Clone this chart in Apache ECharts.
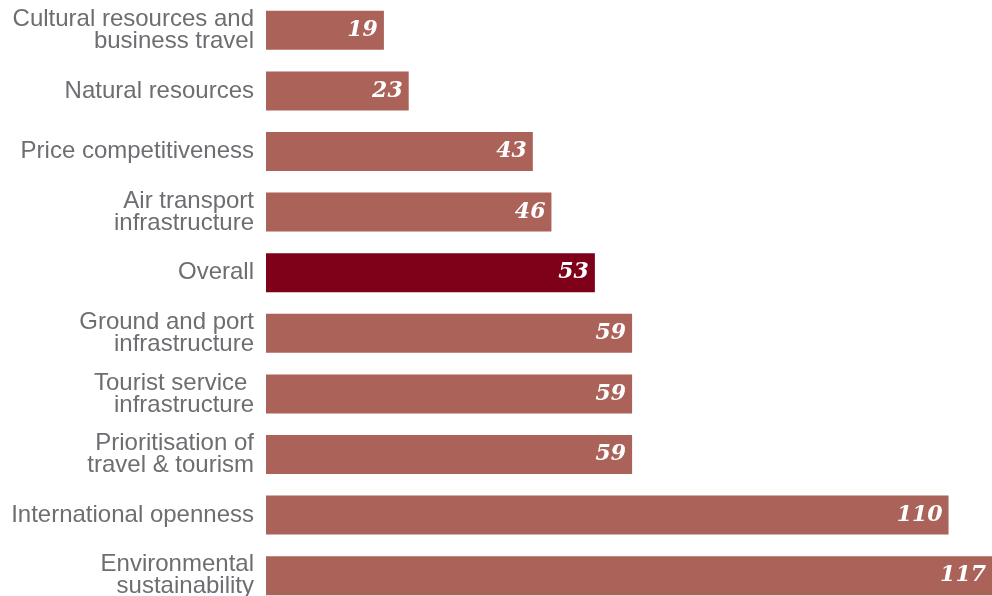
<!DOCTYPE html>
<html>
<head>
<meta charset="utf-8">
<script src="https://cdn.jsdelivr.net/npm/echarts@6/dist/echarts.min.js"></script>
<style>
    html, body { margin: 0; padding: 0; background: #fff; overflow: hidden; }
    /* la ultima barra queda cortada en el original, por eso el alto es mayor que la ventana */
    #chart { width: 992px; height: 606px; }
</style>
</head>
<body>
<div id="chart"></div>
<script>
    // categorias de arriba hacia abajo
    var categorias = [
        'Cultural resources and\nbusiness travel',
        'Natural resources',
        'Price competitiveness',
        'Air transport\ninfrastructure',
        'Overall',
        'Ground and port\ninfrastructure',
        'Tourist service \ninfrastructure',
        'Prioritisation of\ntravel & tourism',
        'International openness',
        'Environmental\nsustainability'
    ];
    var rangos = [19, 23, 43, 46, 53, 59, 59, 59, 110, 117];
    var destacado = 'Overall';

    var colorBarra = '#ab6258';
    var colorDestacado = '#7f0019';

    var datos = rangos.map(function (v, i) {
        return {
            value: v,
            itemStyle: { color: categorias[i] === destacado ? colorDestacado : colorBarra }
        };
    });

    var chart = echarts.init(document.getElementById('chart'));
    chart.setOption({
        animation: false,
        grid: { left: 266, right: 0, top: 0, bottom: 0, containLabel: false },
        xAxis: {
            type: 'value',
            min: 0,
            max: 117,
            show: false
        },
        yAxis: {
            type: 'category',
            inverse: true,
            data: categorias,
            axisLine: { show: false },
            axisTick: { show: false },
            axisLabel: {
                margin: 12,
                fontFamily: 'Liberation Sans, Arial, sans-serif',
                fontSize: 24,
                lineHeight: 22,
                color: '#6d6e71',
                align: 'right'
            }
        },
        series: [{
            type: 'bar',
            data: datos,
            barWidth: 39,
            label: {
                show: true,
                position: 'insideRight',
                distance: 6,
                color: '#fff',
                fontFamily: 'DejaVu Serif, serif',
                fontStyle: 'italic',
                fontWeight: 'bold',
                fontSize: 22
            }
        }]
    });
</script>
</body>
</html>
